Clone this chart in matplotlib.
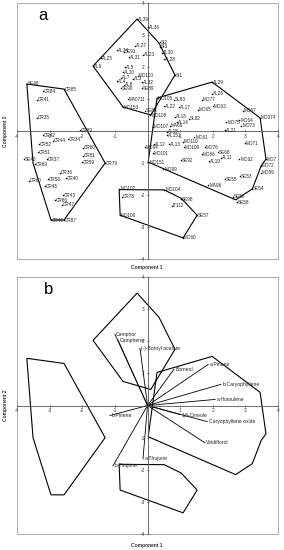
import numpy as np
import matplotlib
matplotlib.use('Agg')
import matplotlib.pyplot as plt
from matplotlib.patches import Rectangle

plt.rcParams['font.family'] = ['Liberation Sans', 'DejaVu Sans']

# Panel a: sample scores (component 1, component 2)
names = ['AL39', 'AL36', 'AL27', 'SE91', 'AL34', 'AL25', 'AL23', 'AL31', 'AL9', 'AL5',
         'AL10', 'AL7', 'AL3', 'AL4', 'AL8', 'SE90', 'MO100', 'AL32', 'SE89', 'MA071',
         'MO153', 'SI2', 'SI3', 'AL30', 'AL28', 'SI1', 'SE88', 'MO108',
         'MO105', 'AL29', 'MO67', 'MO374', 'MO7', 'MO72', 'MO59', 'SE54', 'SE56', 'SE58',
         'MO151', 'AL26', 'SL83', 'MO77', 'AL22', 'AL17', 'MO65', 'MO63', 'AL18', 'AL14',
         'SL82', 'MA66', 'MO107', 'MO75', 'MO64', 'MO73', 'AL21', 'AL15', 'AL151', 'MO61',
         'MO110', 'MO109', 'AL12', 'AL13', 'MO84', 'MO101', 'MO76', 'SE68', 'MO66', 'MO71',
         'AL11', 'AL19', 'MO62', 'SE92', 'SE53', 'SE55', 'MO99', 'MA96',
         'SE48', 'CR85', 'CR84', 'CR41', 'CR35', 'CR89', 'CR42', 'CR34', 'CR44', 'CR52',
         'CR51', 'CR80', 'CR81', 'CR37', 'CR59', 'CR79', 'SE40', 'CR69', 'CR36', 'CR58',
         'CR40', 'CR60', 'CR45', 'CR43', 'CR86', 'CR47', 'CR46', 'CR87',
         'MO102', 'CR78', 'MO104', 'SE98', 'IT112', 'SE57', 'MO60', 'MO106']
comp1 = [-0.32, 0.02, -0.38, -0.72, -0.94, -1.43, -0.14, -0.57, -1.67, -0.69,
         -0.75, -0.81, -0.44, -0.94, -0.72, -0.81, -0.29, -0.17, -0.17, -0.60,
         -0.75, 0.38, 0.38, 0.44, 0.51, 0.84, -0.08, 0.08,
         0.29, 1.98, 2.93, 3.45, 3.63, 3.48, 3.48, 3.21, 2.62, 2.75,
         0.02, 1.98, 0.81, 1.67, 0.51, 0.97, 1.55, 2.01, 0.84, 0.90,
         1.27, 0.69, 0.17, 2.41, 2.81, 2.87, 2.38, 0.60, 0.60, 1.43,
         1.09, 1.12, 0.20, 0.66, -0.08, 0.17, 1.76, 2.16, 1.67, 2.99,
         2.25, 1.89, 2.81, 1.03, 2.84, 2.38, 0.48, 1.86,
         -3.70, -2.56, -3.21, -3.39, -3.39, -2.07, -3.21, -2.44, -2.90, -3.33,
         -3.36, -1.98, -1.98, -3.08, -2.01, -1.30, -3.79, -3.45, -2.68, -3.05,
         -2.50, -3.63, -3.14, -2.59, -2.84, -2.62, -2.96, -2.56,
         -0.87, -0.78, 0.51, 1.03, 0.75, 1.52, 1.09, -0.84]
comp2 = [3.50, 3.25, 2.66, 2.47, 2.53, 2.28, 2.38, 2.31, 2.03, 2.00,
         1.84, 1.66, 1.63, 1.56, 1.44, 1.34, 1.72, 1.53, 1.34, 1.00,
         0.75, 2.78, 2.63, 2.44, 2.25, 1.75, 0.63, 0.50,
         1.03, 1.53, 0.63, 0.41, -0.88, -1.09, -1.31, -1.81, -2.06, -2.22,
         -0.97, 1.16, 0.97, 0.97, 0.78, 0.75, 0.66, 0.78, 0.44, 0.28,
         0.38, 0.16, 0.13, 0.28, 0.34, 0.16, 0.03, -0.03, -0.13, -0.19,
         -0.34, -0.50, -0.41, -0.41, -0.50, -0.69, -0.50, -0.66, -0.72, -0.38,
         -0.84, -0.94, -0.88, -0.91, -1.41, -1.50, -1.19, -1.69,
         1.47, 1.31, 1.25, 0.97, 0.41, 0.03, -0.13, -0.25, -0.31, -0.41,
         -0.66, -0.53, -0.78, -0.88, -0.97, -1.00, -0.88, -1.03, -1.31, -1.50,
         -1.47, -1.56, -1.72, -2.00, -2.16, -2.31, -2.78, -2.78,
         -1.81, -2.06, -1.84, -2.13, -2.34, -2.63, -3.34, -2.63]

# Group outlines (hull vertices)
hull_top_x = [-0.32, 0.35, 0.84, 0.10, -0.75, -1.67]
hull_top_y = [3.50, 2.75, 1.75, 0.50, 0.75, 2.03]
hull_right_x = [0.29, 1.98, 3.45, 3.63, 3.48, 3.40, 3.21, 2.70, 0.02]
hull_right_y = [1.03, 1.53, 0.41, -0.88, -1.09, -1.31, -1.81, -2.15, -0.97]
hull_left_x = [-3.70, -2.56, -1.30, -2.56, -2.96, -3.51]
hull_left_y = [1.47, 1.31, -1.00, -2.78, -2.78, -1.00]
hull_bottom_x = [-0.87, 0.51, 1.03, 1.52, 1.09, -0.84]
hull_bottom_y = [-1.83, -1.84, -2.10, -2.63, -3.34, -2.63]

# Panel b: compound loadings
compounds = ['Camphor', 'Camphene', '(-)-Bornyl acetate', 'Borneol', 'a-Pinene',
             'b-Caryophyllene', 'a-Humulene', '1,8-Cineole', 'Caryophyllene oxide',
             'Viridiflorol', 'a-Thujone', 'b-Thujone', 'b-Pinene']
load1 = [-1.00, -0.90, -0.23, 0.81, 1.86, 2.25, 2.07, 1.00, 1.83, 1.76, -0.14, -1.06, -1.15]
load2 = [2.22, 2.03, 1.78, 1.13, 1.28, 0.66, 0.19, -0.28, -0.50, -1.16, -1.66, -1.88, -0.31]

ticks = [-4, -3, -2, -1, 1, 2, 3, 4]

hulls = [(hull_top_x, hull_top_y), (hull_right_x, hull_right_y),
         (hull_left_x, hull_left_y), (hull_bottom_x, hull_bottom_y)]


def setup_axes(ax):
    ax.set_xlim(-4, 4)
    ax.set_ylim(-4, 4)
    ax.spines['left'].set_position('zero')
    ax.spines['bottom'].set_position('zero')
    ax.spines['top'].set_visible(False)
    ax.spines['right'].set_visible(False)
    for s in ['left', 'bottom']:
        ax.spines[s].set_linewidth(0.6)
        ax.spines[s].set_color('#555555')
    ax.set_xticks(ticks)
    ax.set_yticks(ticks)
    ax.set_xticklabels([str(t) for t in ticks])
    ax.set_yticklabels([str(t) for t in ticks])
    ax.tick_params(axis='both', direction='inout', length=2, width=0.5,
                   labelsize=3.5, pad=1, colors='#333333')
    # gray frame around the plotting area
    ax.add_patch(Rectangle((0, 0), 1, 1, transform=ax.transAxes, fill=False,
                           edgecolor='#aaaaaa', linewidth=0.7, clip_on=False))
    for hx, hy in hulls:
        ax.fill(hx, hy, fill=False, edgecolor='black', linewidth=0.8)


fig = plt.figure(figsize=(2.84, 5.5), dpi=100)
ax1 = fig.add_axes([0.060, 0.529, 0.919, 0.4655])
ax2 = fig.add_axes([0.060, 0.029, 0.919, 0.4673])

# panel a
setup_axes(ax1)
ax1.scatter(comp1, comp2, s=1.2, color='black', zorder=3, linewidths=0)
for n, x, y in zip(names, comp1, comp2):
    ax1.text(x + 0.03, y, n, fontsize=3.3, va='center', ha='left', color='#222222')
ax1.text(0.10, 0.95, 'a', transform=ax1.transAxes, fontsize=12, ha='center', va='center')

# panel b
setup_axes(ax2)
for n, x, y in zip(compounds, load1, load2):
    ax2.plot([0, x], [0, y], color='black', linewidth=0.6)
    ax2.text(x + 0.04, y, n, fontsize=3.6, va='center', ha='left', color='#222222')
ax2.text(0.12, 0.95, 'b', transform=ax2.transAxes, fontsize=12, ha='center', va='center')

# axis titles
for yc_ax, yc_lab in [(131, 268), (405, 545)]:
    fig.text(147 / 284, 1 - yc_lab / 550, 'Component 1', fontsize=3.5,
             ha='center', va='center', fontweight='bold', color='#333333')
    fig.text(6 / 284, 1 - yc_ax / 550, 'Component 2', fontsize=3.5, rotation=90,
             ha='center', va='center', fontweight='bold', color='#333333')

fig.savefig('out.png', dpi=100)
